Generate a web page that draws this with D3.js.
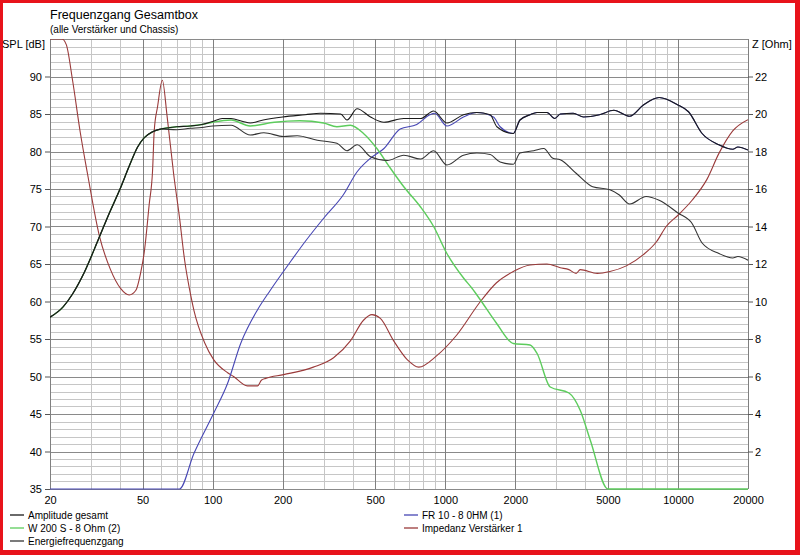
<!DOCTYPE html>
<html>
<head>
<meta charset="utf-8">
<script src="https://cdn.jsdelivr.net/npm/d3@7"></script>
<style>
  body { margin: 0; background: #fff; }
  text { font-family: "Liberation Sans", Arial, sans-serif; fill: #000; }
</style>
</head>
<body>
<div id="chart"></div>
<script>
// Data: [frequency Hz, value]
const lowEnd = [[20, 57.9], [22.8, 59.3], [25, 61], [28, 63.8], [32.4, 68.4], [36, 71.8], [40, 75.0],
  [44, 78.2], [47.6, 80.6], [50.7, 81.8], [55, 82.6], [60, 83.0]];

const amplitudeGesamt = lowEnd.concat([[70, 83.3], [80, 83.4], [90, 83.6], [100, 84.0], [110, 84.4], [120, 84.4],
  [135, 84.0], [145, 83.8], [165, 84.2], [200, 84.6], [250, 84.9], [291, 85.1], [355, 85.0], [378, 84.2],
  [418, 85.7], [477, 84.6], [545, 83.9], [663, 84.4], [783, 84.4], [891, 85.4], [1016, 83.8], [1197, 84.9],
  [1366, 85.2], [1559, 84.9], [1666, 83.3], [1961, 82.4], [2094, 84.2], [2313, 84.9], [2478, 85.2],
  [2735, 85.2], [2955, 84.4], [3121, 85.0], [3545, 85.1], [3930, 84.6], [4600, 84.9], [5300, 85.5],
  [6200, 84.7], [7100, 86.2], [8300, 87.2], [10000, 86.2], [11100, 85.3], [12700, 82.4], [15000, 80.9],
  [17200, 80.3], [18100, 80.6], [20000, 80.2]]);

const w200s = lowEnd.concat([[70, 83.3], [80, 83.4], [90, 83.6], [100, 83.9], [120, 84.2], [145, 83.4],
  [184, 83.9], [237, 84.1], [300, 83.8], [342, 83.3], [391, 83.5], [445, 82.4], [508, 80.4], [580, 77.8],
  [663, 75.3], [783, 72.6], [891, 70.0], [1016, 66.4], [1200, 63.1], [1300, 61.8], [1416, 60.2],
  [1660, 57.1], [1961, 54.4], [2313, 54.2], [2478, 53.1], [2825, 48.6], [3400, 47.8], [3800, 45.5],
  [4200, 41.5], [5000, 35], [20000, 35]]);

const energie = lowEnd.concat([[70, 82.9], [80, 83.1], [90, 83.2], [100, 83.4], [120, 83.5], [145, 82.2],
  [166, 82.5], [202, 82.0], [231, 82.1], [282, 81.5], [342, 81.1], [378, 80.1], [418, 80.9], [477, 79.3],
  [563, 78.8], [663, 79.5], [783, 79.0], [891, 80.1], [1016, 78.2], [1197, 79.5], [1366, 79.8],
  [1559, 79.6], [1720, 78.6], [1961, 78.3], [2094, 79.8], [2400, 80.1], [2650, 80.4], [2900, 79.1],
  [3120, 78.9], [3650, 77.1], [4300, 75.3], [5100, 74.9], [5600, 74.2], [6200, 73.0], [7300, 74.0],
  [8300, 73.5], [10000, 71.8], [11500, 70.4], [12700, 67.8], [15000, 66.4], [17200, 65.8], [18100, 66.0],
  [20000, 65.5]]);

const fr10 = [[20, 35], [72, 35], [83, 39.7], [101, 45.1], [116, 49.1], [132, 54.4], [156, 58.9],
  [177, 61.5], [216, 65.3], [250, 68.0], [300, 71.1], [364, 74.2], [418, 77.3], [477, 79.1], [545, 80.4],
  [640, 83.0], [754, 83.6], [858, 84.9], [900, 85.1], [1016, 83.4], [1197, 84.6], [1366, 85.2],
  [1610, 84.6], [1720, 83.3], [1961, 82.4], [2094, 84.2], [2313, 84.9], [2478, 85.2], [2735, 85.2],
  [2955, 84.4], [3121, 85.0], [3545, 85.1], [3930, 84.6], [4600, 84.9], [5300, 85.5], [6200, 84.7],
  [7100, 86.2], [8300, 87.2], [10000, 86.2], [11100, 85.3], [12700, 82.4], [15000, 80.9], [17200, 80.3],
  [18100, 80.6], [20000, 80.2]];

// impedance, right axis (Ohm)
const impedanz = [[20, 24.0], [22.5, 24.0], [23.5, 23.7], [25, 21.8], [27, 19.0], [29, 16.8], [32.6, 13.5],
  [36.4, 11.7], [40.2, 10.7], [43.8, 10.35], [46.8, 10.6], [49, 11.5], [50.8, 12.6], [53.4, 15.2],
  [55.2, 17.0], [56.1, 19.1], [58, 20.4], [60.8, 21.8], [63.7, 19.9], [68, 16.8], [72, 14.5], [75.8, 12.2],
  [80.6, 10.3], [83.2, 9.5], [92.4, 7.8], [101, 6.9], [116, 6.2], [123, 6.0], [141, 5.5], [156, 5.5],
  [162, 5.8], [169, 5.9], [202, 6.1], [271, 6.5], [331, 7.0], [391, 7.9], [445, 9.0], [484, 9.3],
  [526, 9.1], [600, 7.9], [686, 6.9], [769, 6.5], [917, 7.1], [1118, 8.2], [1416, 10.0], [1660, 11.0],
  [1961, 11.6], [2313, 11.95], [2735, 12.0], [3120, 11.8], [3400, 11.7], [3650, 11.5], [3800, 11.7],
  [4500, 11.5], [5100, 11.6], [6000, 11.9], [7100, 12.5], [8100, 13.2], [8900, 14.0], [10000, 14.6],
  [11500, 15.4], [13300, 16.5], [15000, 17.9], [17200, 19.1], [20000, 19.7]];

const freqTicks = [20, 50, 100, 200, 500, 1000, 2000, 5000, 10000, 20000];
const splTicks = [35, 40, 45, 50, 55, 60, 65, 70, 75, 80, 85, 90];
const zTicks = [2, 4, 6, 8, 10, 12, 14, 16, 18, 20, 22];

const series = [
  { name: "Amplitude gesamt", data: amplitudeGesamt, color: "#1a1a1a", axis: "spl" },
  { name: "W 200 S - 8 Ohm (2)", data: w200s, color: "#5ccc5c", axis: "spl" },
  { name: "Energiefrequenzgang", data: energie, color: "#333333", axis: "spl" },
  { name: "FR 10 - 8 0HM (1)", data: fr10, color: "#4646b4", axis: "spl" },
  { name: "Impedanz Verstärker 1", data: impedanz, color: "#9a3a3a", axis: "z" }
];

const W = 800, H = 555;
const plotLeft = 50, plotRight = 748, plotTop = 39, plotBottom = 489;

const svg = d3.select("#chart").append("svg")
  .attr("width", W)
  .attr("height", H);

// red frame
svg.append("rect").attr("width", W).attr("height", H).attr("fill", "#e8131b");
svg.append("rect").attr("x", 3).attr("y", 3).attr("width", 792).attr("height", 547).attr("fill", "#fff");

const x = d3.scaleLog().domain([20, 20000]).range([plotLeft, plotRight]);
const y = d3.scaleLinear().domain([35, 95]).range([plotBottom, plotTop]);
const z = d3.scaleLinear().domain([0, 24]).range([plotBottom, plotTop]);

// grid
const grid = svg.append("g").attr("shape-rendering", "crispEdges");
const vLines = [];
[10, 100, 1000, 10000].forEach(d => {
  for (let m = 1; m <= 9; m++) {
    const f = m * d;
    if (f >= 20 && f <= 20000) vLines.push({ f: f, major: m === 1 || m === 2 || m === 5 });
  }
});
const hLines = d3.range(35, 96);

grid.selectAll(".hminor").data(hLines.filter(v => v % 5 !== 0)).enter().append("line")
  .attr("x1", plotLeft).attr("x2", plotRight)
  .attr("y1", d => Math.round(y(d)) + 0.5).attr("y2", d => Math.round(y(d)) + 0.5)
  .attr("stroke", "#c6c6c6");
grid.selectAll(".vminor").data(vLines.filter(d => !d.major)).enter().append("line")
  .attr("x1", d => Math.round(x(d.f)) + 0.5).attr("x2", d => Math.round(x(d.f)) + 0.5)
  .attr("y1", plotTop).attr("y2", plotBottom)
  .attr("stroke", "#c6c6c6");
grid.selectAll(".hmajor").data(hLines.filter(v => v % 5 === 0)).enter().append("line")
  .attr("x1", plotLeft).attr("x2", plotRight)
  .attr("y1", d => Math.round(y(d)) + 0.5).attr("y2", d => Math.round(y(d)) + 0.5)
  .attr("stroke", "#8a8a8a");
grid.selectAll(".vmajor").data(vLines.filter(d => d.major)).enter().append("line")
  .attr("x1", d => Math.round(x(d.f)) + 0.5).attr("x2", d => Math.round(x(d.f)) + 0.5)
  .attr("y1", plotTop).attr("y2", plotBottom)
  .attr("stroke", "#808080");

// title
svg.append("text").attr("x", 50).attr("y", 19).style("font-size", "12.5px").attr("fill", "#222")
  .text("Frequenzgang Gesamtbox");
svg.append("text").attr("x", 50).attr("y", 33).style("font-size", "10px").attr("fill", "#222")
  .text("(alle Verstärker und Chassis)");

// left axis
const yAxis = d3.axisLeft(y).tickValues(splTicks).tickSize(5).tickPadding(3);
const gy = svg.append("g").attr("transform", "translate(" + plotLeft + ",0)").call(yAxis);
gy.select(".domain").remove();
gy.selectAll("text").style("font-size", "11px").style("font-family", "Liberation Sans, Arial, sans-serif");
gy.selectAll("line").attr("stroke", "#555");
svg.append("text").attr("x", 45).attr("y", 48).attr("text-anchor", "end").style("font-size", "11px")
  .text("SPL [dB]");

// right axis
const zAxis = d3.axisRight(z).tickValues(zTicks).tickSize(5).tickPadding(2);
const gz = svg.append("g").attr("transform", "translate(" + plotRight + ",0)").call(zAxis);
gz.select(".domain").remove();
gz.selectAll("text").style("font-size", "11px").style("font-family", "Liberation Sans, Arial, sans-serif");
gz.selectAll("line").attr("stroke", "#555");
svg.append("text").attr("x", 752).attr("y", 48).style("font-size", "11px").text("Z [Ohm]");

// bottom axis
const xAxis = d3.axisBottom(x).tickValues(freqTicks).tickFormat(d3.format("d")).tickSize(0).tickPadding(7);
const gx = svg.append("g").attr("transform", "translate(0," + plotBottom + ")").call(xAxis);
gx.select(".domain").remove();
gx.selectAll("text").style("font-size", "11px").style("font-family", "Liberation Sans, Arial, sans-serif");

// curves
svg.append("clipPath").attr("id", "plot").append("rect")
  .attr("x", plotLeft).attr("y", plotTop).attr("width", plotRight - plotLeft).attr("height", plotBottom - plotTop + 1);

const lineSpl = d3.line().x(d => x(d[0])).y(d => y(d[1])).curve(d3.curveMonotoneX);
const lineZ = d3.line().x(d => x(d[0])).y(d => z(d[1])).curve(d3.curveMonotoneX);

const drawOrder = [4, 3, 1, 2, 0];
svg.append("g").attr("clip-path", "url(#plot)")
  .selectAll("path").data(drawOrder.map(i => series[i])).enter().append("path")
  .attr("d", s => s.axis === "z" ? lineZ(s.data) : lineSpl(s.data))
  .attr("fill", "none")
  .attr("stroke", s => s.color)
  .attr("stroke-width", s => s.name === "W 200 S - 8 Ohm (2)" ? 1.4 : 1.1);

// legend
const legendPos = [[10, 515], [10, 528], [10, 541], [404, 515], [404, 528]];
const legendG = svg.selectAll(".legend").data(series).enter().append("g")
  .attr("class", "legend")
  .attr("transform", (d, i) => "translate(" + legendPos[i][0] + "," + legendPos[i][1] + ")");
legendG.append("line").attr("x1", 0).attr("x2", 14).attr("y1", 0).attr("y2", 0)
  .attr("stroke", d => d.color).attr("stroke-width", 1.3);
legendG.append("text").attr("x", 18).attr("y", 4).style("font-size", "10px").text(d => d.name);
</script>
</body>
</html>
